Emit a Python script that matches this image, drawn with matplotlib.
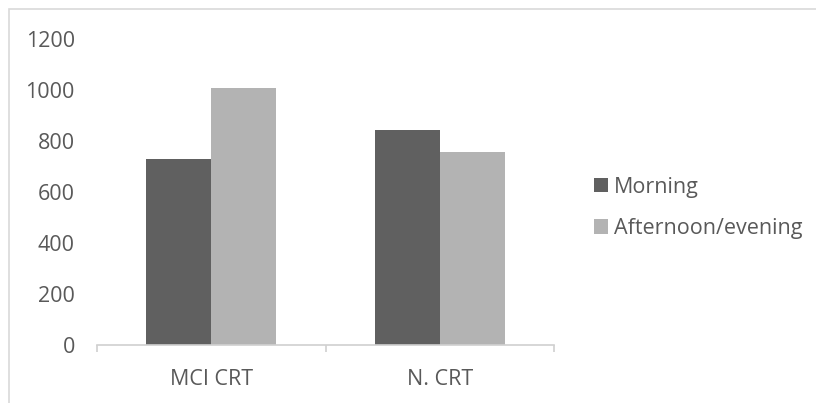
import matplotlib
matplotlib.use("Agg")
import matplotlib.pyplot as plt
import numpy as np
from matplotlib.patches import Rectangle

categories = ["MCI CRT", "N. CRT"]
morning = [728, 842]
afternoon = [1009, 758]
series_names = ["Morning", "Afternoon/evening"]
y_ticks = [0, 200, 400, 600, 800, 1000, 1200]

plt.rcParams["font.family"] = ["Open Sans", "DejaVu Sans"]
text_color = "#595959"
fs = 15.5

W, H = 816, 403
fig = plt.figure(figsize=(W / 100, H / 100), dpi=100)
ax = fig.add_axes([97 / W, (H - 345) / H, 457 / W, 306 / H])

x = np.arange(len(categories))
bw = 0.285
ax.bar(x - bw / 2, morning, bw, color="#606060", label=series_names[0])
ax.bar(x + bw / 2, afternoon, bw, color="#b3b3b3", label=series_names[1])

ax.set_xlim(-0.5, 1.5)
ax.set_ylim(0, 1200)
ax.set_yticks(y_ticks)
ax.set_yticklabels([str(v) for v in y_ticks])
ax.set_xticks(x)
ax.set_xticklabels(categories)
ax.set_xticks([-0.5, 0.5, 1.5], minor=True)

for s in ["top", "right", "left"]:
    ax.spines[s].set_visible(False)
ax.spines["bottom"].set_color("#d0d0d0")
ax.spines["bottom"].set_linewidth(1.2)

ax.tick_params(axis="y", length=0, pad=16, labelsize=fs, labelcolor=text_color)
ax.tick_params(axis="x", which="major", length=0, pad=17, labelsize=fs, labelcolor=text_color)
ax.tick_params(axis="x", which="minor", length=5, width=1.2, color="#d0d0d0")

leg = fig.legend(loc="center left", bbox_to_anchor=(585 / W, 1 - 208 / H),
                 frameon=False, fontsize=fs, handlelength=0.65, handleheight=0.65,
                 handletextpad=0.3, labelspacing=0.95, borderaxespad=0,
                 labelcolor=text_color)

# outer chart frame
fig.patches.append(Rectangle((9 / W, -0.1), 1.2, 1 - 9 / H + 0.1,
                             transform=fig.transFigure, fill=False,
                             edgecolor="#d9d9d9", linewidth=1.2))

fig.savefig("out.png", dpi=100)
